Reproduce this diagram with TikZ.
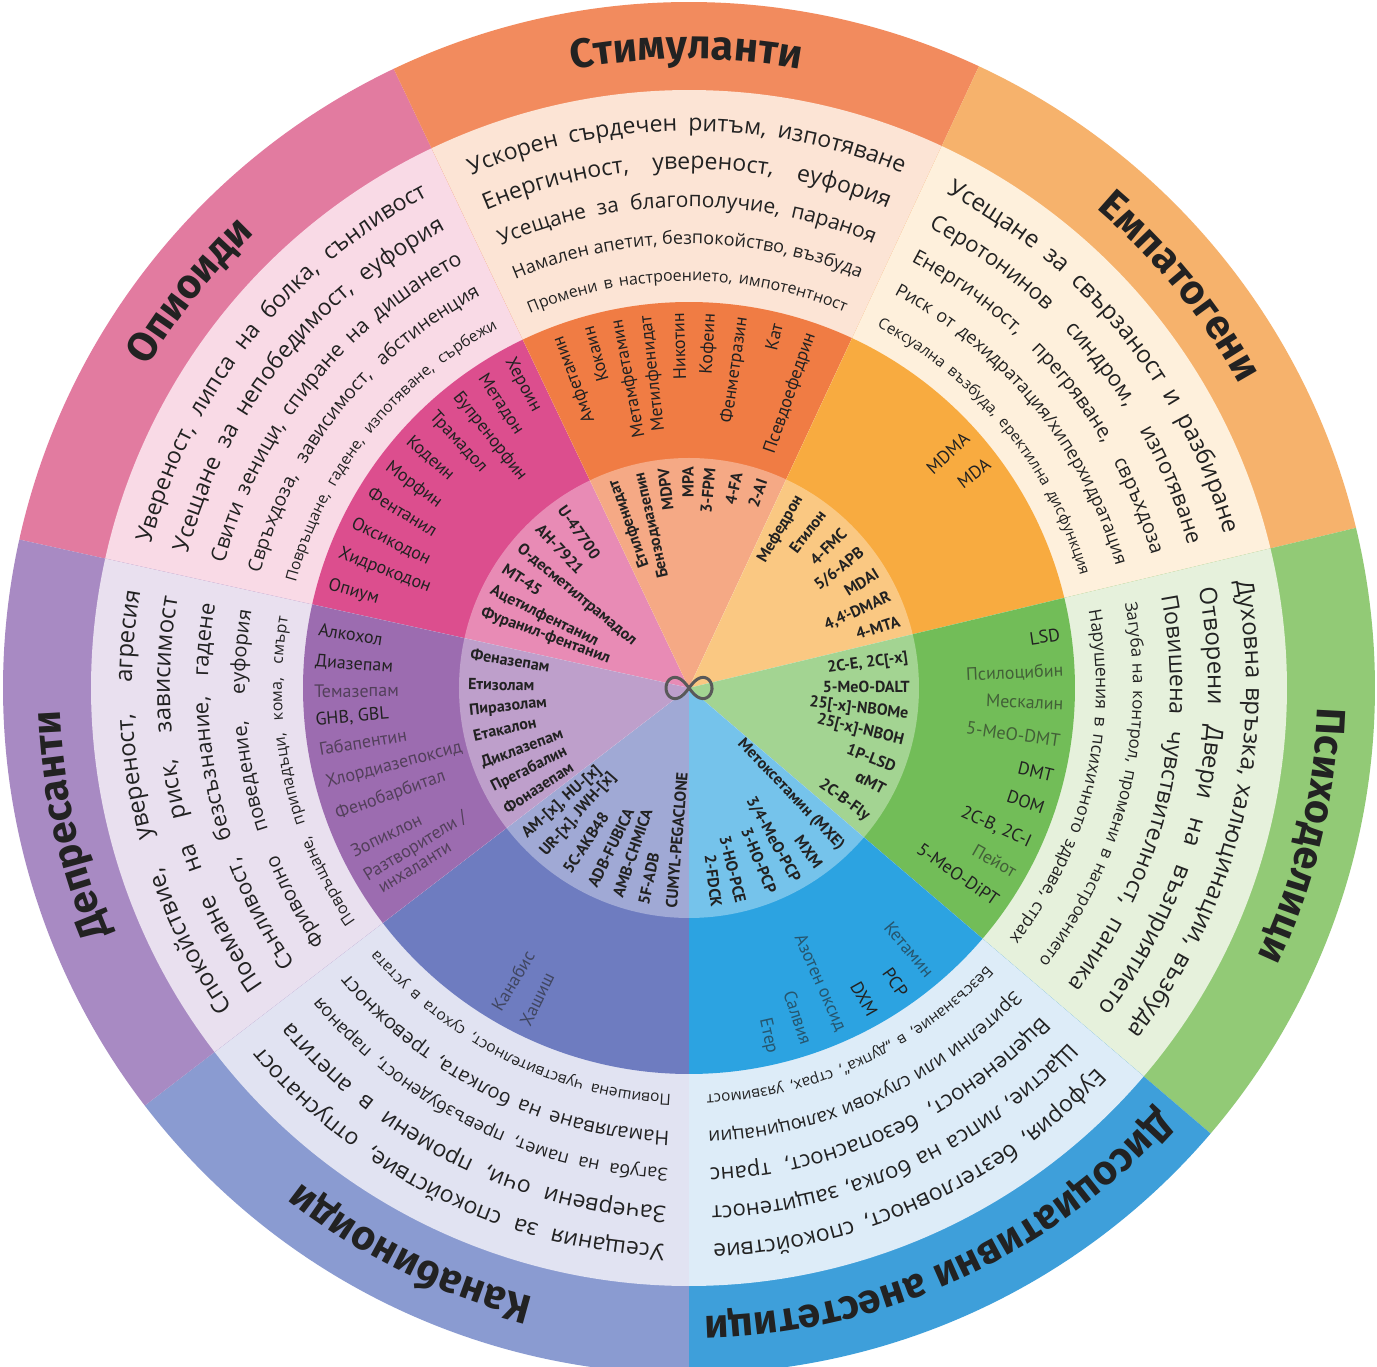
\documentclass[tikz,border=0pt]{standalone}
\usepackage{fontspec}
\setmainfont{Open Sans}
\newfontfamily\efont{Open Sans}
\newfontfamily\nfont{PT Sans}
\newfontfamily\tfont{Fira Sans}
\usetikzlibrary{decorations.text}

\definecolor{ink}{HTML}{222222}
% outer band / effects band / substance band
\definecolor{opiO}{HTML}{E27BA0}\definecolor{opiE}{HTML}{F9DAE6}\definecolor{opiD}{HTML}{DC4E8E}
\definecolor{stiO}{HTML}{F28B5E}\definecolor{stiE}{HTML}{FCE4D5}\definecolor{stiD}{HTML}{F07C44}
\definecolor{empO}{HTML}{F6B26C}\definecolor{empE}{HTML}{FEF0DC}\definecolor{empD}{HTML}{F8AB40}
\definecolor{psyO}{HTML}{92CA76}\definecolor{psyE}{HTML}{E6F1DC}\definecolor{psyD}{HTML}{72BD58}
\definecolor{disO}{HTML}{3E9FDA}\definecolor{disE}{HTML}{DDECF8}\definecolor{disD}{HTML}{2CA3E1}
\definecolor{canO}{HTML}{8A9BD1}\definecolor{canE}{HTML}{E1E3F2}\definecolor{canD}{HTML}{6E7CC0}
\definecolor{depO}{HTML}{A88AC3}\definecolor{depE}{HTML}{E9E0EF}\definecolor{depD}{HTML}{9C6CB0}

\tikzset{
  drug/.style={font=\nfont\fontsize{18}{18}\selectfont, text=ink, inner sep=1pt},
  dim/.style={drug, text opacity=0.6},
  core/.style={font=\nfont\bfseries\fontsize{16}{16}\selectfont, text=ink, inner sep=1pt},
}

% one line of effects along a clockwise arc: radius, from, to, size, text
\newcommand\effect[5]{%
  \path[decorate, decoration={text along path, text align={fit to path stretching spaces},
      text={|\efont\fontsize{#4}{#4}\selectfont\color{ink}|#5}}]
    (#2:#1pt) arc[start angle=#2, end angle=#3, radius=#1pt];}

% group name in the outer band, centred on an angle
\newcommand\catname[2]{%
  \path[decorate, decoration={text along path, text align=center,
      text={|\tfont\bfseries\fontsize{41}{41}\selectfont\color{ink}|#2}}]
    ({#1+40}:629pt) arc[start angle={#1+40}, end angle={#1-40}, radius=629pt];}

\begin{document}
\begin{tikzpicture}
\useasboundingbox (-689pt,-679pt) rectangle (688pt,688pt);
\fill[white] (-689pt,-679pt) rectangle (688pt,688pt);

% the rings, outside in
\foreach \a/\b/\outc/\effc/\drugc in {115.5/167.5/opiO/opiE/opiD, 65/115.5/stiO/stiE/stiD,
    13.5/65/empO/empE/empD, -40.5/13.5/psyO/psyE/psyD, -90/-40.5/disO/disE/disD,
    -142.5/-90/canO/canE/canD, -192.5/-142.5/depO/depE/depD} {
  \fill[\outc] (0,0) -- (\a:686pt) arc[start angle=\a, end angle=\b, radius=686pt] -- cycle;
  \fill[\effc] (0,0) -- (\a:598pt) arc[start angle=\a, end angle=\b, radius=598pt] -- cycle;
  \fill[\drugc] (0,0) -- (\a:386pt) arc[start angle=\a, end angle=\b, radius=386pt] -- cycle;
}
\fill[white, opacity=0.35] (0,0) circle[radius=230pt];

% infinity in the middle
\draw[black!65, line width=3pt] plot[domain=0:360, samples=90, smooth]
  ({23pt*cos(\x)/(1+sin(\x)^2)}, {30pt*sin(\x)*cos(\x)/(1+sin(\x)^2)}) -- cycle;

% group names
\catname{141.5}{Опиоиди}
\catname{90.25}{Стимуланти}
\catname{39.25}{Емпатогени}
\catname{-13.5}{Психоделици}
\catname{-65.25}{Дисоциативни анестетици}
\catname{-116.25}{Канабиноиди}
\catname{-167.5}{Депресанти}

% effects
\effect{557}{165}{118}{23}{Увереност, липса на болка, сънливост}
\effect{519}{165}{118}{23}{Усещане за непобедимост, еуфория}
\effect{481}{165}{118}{21}{Свити зеници, спиране на дишането}
\effect{444}{165}{118}{19}{Свръхдоза, зависимост, абстиненция}
\effect{407}{165}{118}{15.5}{Повръщане, гадене, изпотяване, сърбежи}

\effect{557}{113}{67.5}{23}{Ускорен сърдечен ритъм, изпотяване}
\effect{519}{113}{67.5}{23}{Енергичност, увереност, еуфория}
\effect{481}{113}{67.5}{21}{Усещане за благополучие, параноя}
\effect{444}{113}{67.5}{18}{Намален апетит, безпокойство, възбуда}
\effect{407}{113}{67.5}{16}{Промени в настроението, импотентност}

\effect{557}{62.5}{16}{24}{Усещане за свързаност и разбиране}
\effect{519}{62.5}{16}{22}{Серотонинов синдром, изпотяване}
\effect{481}{62.5}{16}{20}{Енергичност, прегряване, свръхдоза}
\effect{444}{62.5}{16}{18}{Риск от дехидратация/хиперхидратация}
\effect{407}{62.5}{16}{15.3}{Сексуална възбуда, еректилна дисфункция}

\effect{557}{11}{-38}{24}{Духовна връзка, халюцинации, възбуда}
\effect{519}{11}{-38}{24}{Отворени Двери на възприятието}
\effect{481}{11}{-38}{23}{Повишена чувствителност, паника}
\effect{444}{11}{-38}{17}{Загуба на контрол, промени в настроението}
\effect{407}{11}{-38}{17.5}{Нарушения в психичното здраве, страх}

\effect{557}{-43}{-87.5}{23}{Еуфория, безтегловност, спокойствие}
\effect{519}{-43}{-87.5}{22}{Щастие, липса на болка, защитеност}
\effect{481}{-43}{-87.5}{22}{Вцепененост, безопасност, транс}
\effect{444}{-43}{-87.5}{19}{Зрителни или слухови халюцинации}
\effect{407}{-43}{-87.5}{15.3}{Безсъзнание, в „дупка“, страх, уязвимост}

\effect{557}{-92.5}{-140}{23}{Усещания за спокойствие, отпуснатост}
\effect{519}{-92.5}{-140}{23}{Зачервени очи, промени в апетита}
\effect{481}{-92.5}{-140}{18}{Загуба на памет, превъзбуденост, параноя}
\effect{444}{-92.5}{-140}{20}{Намаляване на болката, тревожност}
\effect{407}{-92.5}{-140}{15.5}{Повишена чувствителност, сухота в устата}

\effect{557}{-145}{-190}{24}{Спокойствие, увереност, агресия}
\effect{519}{-145}{-190}{24}{Поемане на риск, зависимост}
\effect{481}{-145}{-190}{22}{Сънливост, безсъзнание, гадене}
\effect{444}{-145}{-190}{20}{Фриволно поведение, еуфория}
\effect{407}{-145}{-190}{16}{Повръщане, припадъци, кома, смърт}

% substances, middle band
\foreach \a/\t [count=\i] in {118.7/Хероин, 123.5/Метадон, 128.4/Бупренорфин, 133.2/Трамадол,
    138.4/Кодеин, 143.6/Морфин, 148.4/Фентанил, 153.8/Оксикодон, 158.9/Хидрокодон, 164/Опиум}
  \node[drug, anchor=west, rotate=\a+180] (opi-\i) at (\a:376pt) {\t};
\foreach \a/\t [count=\i] in {110.4/Амфетамин, 105.7/Кокаин, 101/Метамфетамин, 96.5/Метилфенидат,
    91.7/Никотин, 86.7/Кофеин, 81.8/Фенметразин, 76.4/Кат, 71/Псевдоефедрин}
  \node[drug, anchor=east, rotate=\a] (sti-\i) at (\a:376pt) {\t};
\foreach \a/\t [count=\i] in {42.2/MDMA, 37/MDA}
  \node[drug, anchor=east, rotate=\a] (emp-\i) at (\a:376pt) {\t};
\foreach \a/\t/\s [count=\i] in {8.2/LSD/drug, 2.6/Псилоцибин/dim, -2.4/Мескалин/dim,
    -8.1/5-MeO-DMT/dim, -13.6/DMT/drug, -18.7/DOM/drug, -24.4/{2C-B, 2C-I}/drug,
    -29.5/Пейот/dim, -34.7/5-MeO-DiPT/drug}
  \node[\s, anchor=east, rotate=\a] (psy-\i) at (\a:376pt) {\t};
\foreach \a/\t/\s [count=\i] in {-49.9/Кетамин/dim, -55/PCP/drug, -60.6/DXM/drug,
    -66/Азотен оксид/dim, -71.7/Салвия/dim, -77.2/Етер/dim}
  \node[\s, anchor=east, rotate=\a] (dis-\i) at (\a:376pt) {\t};
\foreach \a/\t [count=\i] in {-121/Канабис, -116/Хашиш}
  \node[dim, anchor=west, rotate=\a+180] (can-\i) at (\a:376pt) {\t};
\foreach \a/\t/\s [count=\i] in {171/Алкохол/drug, 176/Диазепам/drug, 180.5/Темазепам/dim,
    184.9/{GHB, GBL}/drug, 189.4/Габапентин/dim, 194.7/Хлордиазепоксид/dim,
    199.8/Фенобарбитал/dim, 205.9/Зопиклон/dim}
  \node[\s, anchor=west, rotate=\a+180] (dep-\i) at (\a:376pt) {\t};
\node[dim, anchor=west, align=left, rotate=31.5] (dep-9) at (211.5:376pt)
  {Разтворители /\\\hspace*{6pt}инхаланти};

% substances, inner disc
\foreach \a/\t [count=\i] in {125.2/U-47700, 132.9/AH-7921, 140.4/О-десметилтрамадол,
    147/MT-45, 153.7/Ацетилфентанил, 160/Фуранил-фентанил}
  \node[core, anchor=west, rotate=\a+180] (opi-c\i) at (\a:222pt) {\t};
\foreach \a/\t [count=\i] in {110/Етилфенидат, 103/Бензодиазепин, 96.7/MDPV, 90.3/MPA,
    84.5/3-FPM, 77.4/4-FA, 70.6/2-AI}
  \node[core, anchor=east, rotate=\a] (sti-c\i) at (\a:222pt) {\t};
\foreach \a/\t [count=\i] in {60/Мефедрон, 52.8/Етилон, 45.4/4-FMC, 38.3/{5/6-APB},
    31.5/MDAI, 24.4/{4,4'-DMAR}, 17.7/4-MTA}
  \node[core, anchor=east, rotate=\a] (emp-c\i) at (\a:222pt) {\t};
\foreach \a/\t [count=\i] in {7.8/{2C-E, 2C[-x]}, 0.3/5-MeO-DALT, -7/{25[-x]-NBOMe},
    -13.9/{25[-x]-NBOH}, -20.9/1P-LSD, -27.6/{{\tfont α}MT}, -35.9/2C-B-Fly}
  \node[core, anchor=east, rotate=\a] (psy-c\i) at (\a:222pt) {\t};
\foreach \a/\t [count=\i] in {-46.3/Метоксетамин (MXE), -53.9/MXM, -61/{3/4-MeO-PCP},
    -67.9/3-HO-PCP, -76.4/3-HO-PCE, -82.8/2-FDCK}
  \node[core, anchor=east, rotate=\a] (dis-c\i) at (\a:222pt) {\t};
\foreach \a/\t [count=\i] in {-94.6/CUMYL-PEGACLONE, -101.9/5F-ADB, -108.9/AMB-CHMICA,
    -116/ADB-FUBICA, -123.7/5C-AKB48, -131.2/{UR-[x], JWH-[x]}, -138/{AM-[x], HU-[x]}}
  \node[core, anchor=west, rotate=\a+180] (can-c\i) at (\a:222pt) {\t};
\foreach \a/\t [count=\i] in {171.2/Феназепам, 179/Етизолам, 186/Пиразолам, 192.5/Етакалон,
    200/Диклазепам, 207/Прегабалин, 213.5/Фоназепам}
  \node[core, anchor=west, rotate=\a+180] (dep-c\i) at (\a:222pt) {\t};
\end{tikzpicture}
\end{document}
